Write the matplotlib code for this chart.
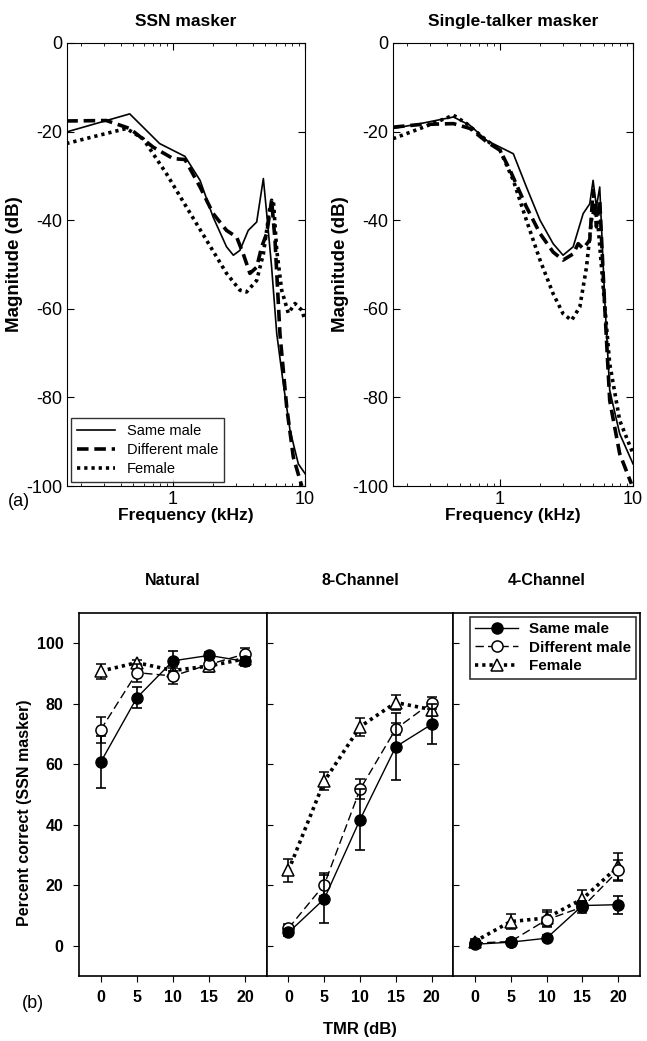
import matplotlib
matplotlib.use('Agg')
import matplotlib.pyplot as plt
import matplotlib.ticker as ticker
from matplotlib import rcParams
from matplotlib.lines import Line2D

rcParams['font.family'] = ['Liberation Sans', 'DejaVu Sans']
rcParams['axes.unicode_minus'] = False

# ---- (a) long-term spectra: frequency (kHz) / magnitude (dB)
ssn_same_f = [0.155, 0.469, 0.79, 1.23, 1.6, 2.01, 2.54, 2.86, 3.21, 3.71, 4.3, 4.83,
              5.12, 5.58, 6.1, 6.84, 7.69, 8.89, 10]
ssn_same_db = [-20.1, -16, -22.7, -25.6, -31, -39.3, -46, -47.9, -46.8, -42.3, -40.4, -30.6,
               -38.5, -50.6, -65.6, -76.9, -87.4, -95, -97.2]
ssn_diff_f = [0.155, 0.312, 0.469, 0.705, 1, 1.23, 1.6, 2.01, 2.54, 3.03, 3.4, 3.82, 4.3,
              4.69, 5.12, 5.58, 5.92, 6.45, 7.26, 8.15, 9.44]
ssn_diff_db = [-17.6, -17.5, -19.3, -23.5, -26.1, -26.3, -32.5, -38.5, -42.3, -43.8, -47.6,
               -52, -50.6, -46, -43, -35.5, -44.5, -65.6, -82.2, -93.5, -100]
ssn_fem_f = [0.155, 0.277, 0.442, 0.592, 0.89, 1.26, 1.79, 2.54, 3.21, 3.6, 4.3, 4.83,
             5.42, 5.75, 6.1, 6.65, 7.47, 8.39, 9.44, 10]
ssn_fem_db = [-22.7, -20.8, -19.3, -21.6, -29.5, -37, -44.5, -52, -55.8, -56.2, -53.6, -47.6,
              -37, -35.5, -46.8, -55.8, -61, -58.8, -60.3, -62.6]

st_same_f = [0.157, 0.251, 0.447, 0.596, 0.794, 1, 1.26, 1.58, 2, 2.51, 2.98, 3.55, 4.22,
             4.73, 5.01, 5.31, 5.62, 6.13, 6.68, 7.94, 10]
st_same_db = [-19.3, -18.2, -16.7, -18.6, -22, -23.5, -25, -32.5, -40, -45.3, -47.9, -46,
              -38.5, -36.3, -31, -37, -32.5, -58, -78.4, -88.2, -95]
st_diff_f = [0.157, 0.251, 0.447, 0.596, 0.794, 1, 1.19, 1.58, 2, 2.51, 2.98, 3.55, 3.87,
             4.22, 4.73, 5.01, 5.31, 5.62, 6.13, 6.68, 7.94, 9.72]
st_diff_db = [-19, -18.4, -18.2, -19.3, -22.3, -24.2, -28.7, -37, -43, -47.2, -49, -47.6,
              -45.3, -46.4, -44.5, -33.3, -41.5, -35.5, -59.6, -80.7, -92.7, -99.5]
st_fem_f = [0.157, 0.251, 0.447, 0.562, 0.794, 1, 1.26, 1.58, 2, 2.51, 2.98, 3.45, 3.98,
            4.47, 4.87, 5.16, 5.47, 5.96, 6.68, 7.94, 10]
st_fem_db = [-21.6, -19.3, -16.3, -18.2, -22, -24.2, -31, -40, -49, -56.6, -61.1, -62.6,
             -59.6, -50.6, -40, -37, -41.5, -55, -72.4, -85.2, -92.7]

# ---- (b) percent correct vs TMR
tmr = [0, 5, 10, 15, 20]
nat_same = [60.7, 82, 94.2, 96, 94]
nat_same_err = [8.5, 3.5, 3.3, 1, 1.5]
nat_diff = [71.4, 90.3, 89.2, 93, 96.5]
nat_diff_err = [4.2, 3, 2.5, 1.5, 2]
nat_fem = [90.8, 93.6, 91, 92.5, 94.9]
nat_fem_err = [2.5, 1, 1.5, 2, 2]

ch8_same = [4.4, 15.5, 41.7, 65.8, 73.2]
ch8_same_err = [1, 8, 10, 11, 6.6]
ch8_diff = [5.8, 20.2, 51.7, 71.7, 80.4]
ch8_diff_err = [1.5, 3.8, 3.3, 2, 2]
ch8_fem = [24.9, 54.4, 72.4, 80.4, 78.1]
ch8_fem_err = [3.8, 3, 3, 2.5, 2]

ch4_same = [0.5, 1.2, 2.5, 13.3, 13.6]
ch4_same_err = [0.5, 0.5, 1, 1.5, 3]
ch4_diff = [0.9, 1.4, 8.6, 12.8, 24.9]
ch4_diff_err = [0.8, 0.8, 2.5, 2, 3.6]
ch4_fem = [1.4, 8, 9.2, 15.5, 26.3]
ch4_fem_err = [1, 2.5, 2.5, 3, 4.5]

labels = ['Same male', 'Different male', 'Female']

fig = plt.figure(figsize=(6.47, 10.41), dpi=100)

# ---------------- top row
ax_ssn = fig.add_axes([0.1036, 0.5331, 0.3679, 0.4256])
ax_st = fig.add_axes([0.6074, 0.5331, 0.3710, 0.4256])

spectra = [
    (ax_ssn, 'SSN masker',
     [(ssn_same_f, ssn_same_db), (ssn_diff_f, ssn_diff_db), (ssn_fem_f, ssn_fem_db)]),
    (ax_st, 'Single-talker masker',
     [(st_same_f, st_same_db), (st_diff_f, st_diff_db), (st_fem_f, st_fem_db)]),
]
for ax, title, curves in spectra:
    (f1, d1), (f2, d2), (f3, d3) = curves
    ax.plot(f1, d1, color='black', lw=1.2, ls='-', label=labels[0])
    ax.plot(f2, d2, color='black', lw=2.6, ls=(0, (3.2, 1.6)), label=labels[1])
    ax.plot(f3, d3, color='black', lw=2.6, ls=(0, (0.9, 1.1)), label=labels[2])
    ax.set_xscale('log')
    ax.set_xlim(0.157, 10)
    ax.set_ylim(-100, 0)
    ax.set_yticks([-100, -80, -60, -40, -20, 0])
    ax.xaxis.set_major_locator(ticker.FixedLocator([1, 10]))
    ax.xaxis.set_major_formatter(ticker.FormatStrFormatter('%g'))
    ax.xaxis.set_minor_formatter(ticker.NullFormatter())
    ax.tick_params(which='both', direction='in', top=True, right=True, labelsize=13)
    ax.tick_params(which='major', length=5)
    ax.tick_params(which='minor', length=2.5)
    ax.set_title(title, fontsize=12.5, fontweight='bold', pad=12)
    ax.set_xlabel('Frequency (kHz)', fontsize=12.5, fontweight='bold', labelpad=0)
    ax.set_ylabel('Magnitude (dB)', fontsize=13.5, fontweight='bold', labelpad=2)

leg = ax_ssn.legend(loc='lower left', fontsize=10.5, frameon=True, fancybox=False,
                    edgecolor='black', handlelength=2.6, borderaxespad=0.3,
                    labelspacing=0.35, borderpad=0.4)
leg.get_frame().set_linewidth(1.0)

fig.text(0.012, 0.518, '(a)', fontsize=13, va='center')

# ---------------- bottom row
lefts = [0.1221, 0.4127, 0.7002]
widths = [0.2906, 0.2875, 0.2890]
panels = [
    ('Natural', nat_same, nat_same_err, nat_diff, nat_diff_err, nat_fem, nat_fem_err),
    ('8-Channel', ch8_same, ch8_same_err, ch8_diff, ch8_diff_err, ch8_fem, ch8_fem_err),
    ('4-Channel', ch4_same, ch4_same_err, ch4_diff, ch4_diff_err, ch4_fem, ch4_fem_err),
]
styles = [
    dict(color='black', lw=1.0, ls='-', marker='o', ms=8, mfc='black', mec='black'),
    dict(color='black', lw=1.0, ls=(0, (6, 3)), marker='o', ms=8, mfc='white',
         mec='black', mew=1.1),
    dict(color='black', lw=2.6, ls=(0, (0.9, 1.1)), marker='^', ms=8, mfc='white',
         mec='black', mew=1.1),
]
axes_b = []
for i, (title, s, se, d, de, fm, fe) in enumerate(panels):
    ax = fig.add_axes([lefts[i], 0.0624, widths[i], 0.3487])
    axes_b.append(ax)
    ekw = dict(ecolor='black', elinewidth=1.2, capsize=3.5, capthick=1.2)
    ax.errorbar(tmr, fm, yerr=fe, zorder=3, **styles[2], **ekw)
    ax.errorbar(tmr, d, yerr=de, zorder=4, **styles[1], **ekw)
    ax.errorbar(tmr, s, yerr=se, zorder=5, **styles[0], **ekw)
    ax.set_xlim(-3, 23)
    ax.set_ylim(-10, 110)
    ax.set_xticks(tmr)
    ax.set_yticks([0, 20, 40, 60, 80, 100])
    ax.set_title(title, fontsize=11.5, fontweight='bold', pad=20)
    ax.tick_params(axis='x', direction='out', length=4, labelsize=11.5, pad=6)
    for lab in ax.get_xticklabels():
        lab.set_fontweight('bold')
    if i == 0:
        ax.tick_params(axis='y', direction='out', length=4, labelsize=11.5, pad=7)
        for lab in ax.get_yticklabels():
            lab.set_fontweight('bold')
    else:
        ax.tick_params(axis='y', direction='in', length=4, labelleft=False)
    for sp in ax.spines.values():
        sp.set_linewidth(1.2)

handles = [Line2D([], [], **st) for st in styles]
leg = axes_b[2].legend(handles, labels, loc='upper right', fontsize=11, frameon=True,
                       fancybox=False, edgecolor='black', handlelength=2.8,
                       borderaxespad=0.25, labelspacing=0.3, borderpad=0.35,
                       handletextpad=0.7, numpoints=1)
leg.get_frame().set_linewidth(1.2)
for t in leg.get_texts():
    t.set_fontweight('bold')

fig.text(0.038, 0.219, 'Percent correct (SSN masker)', rotation=90, fontsize=11.5,
         fontweight='bold', ha='center', va='center')
fig.text(0.557, 0.011, 'TMR (dB)', fontsize=12, fontweight='bold', ha='center',
         va='center')
fig.text(0.034, 0.036, '(b)', fontsize=13, ha='left', va='center')

fig.savefig('out.png', dpi=100)
